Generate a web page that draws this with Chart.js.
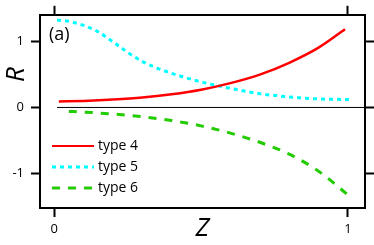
<!DOCTYPE html>
<html>
<head>
<meta charset="utf-8">
<script src="https://cdn.jsdelivr.net/npm/chart.js@4"></script>
<style>
  body { margin: 0; background: #fff; }
  #wrap { width: 374px; height: 245px; position: relative; }
</style>
</head>
<body>
<div id="wrap"><canvas id="myChart"></canvas></div>
<script>
/* values */
const zType4 = [0.016, 0.1, 0.2, 0.3, 0.4, 0.5, 0.6, 0.7, 0.8, 0.9, 0.99];
const rType4 = [0.09, 0.10, 0.12, 0.15, 0.20, 0.27, 0.37, 0.50, 0.68, 0.91, 1.19];

const zType5 = [0.01, 0.05, 0.1, 0.15, 0.2, 0.25, 0.3, 0.35, 0.4, 0.45, 0.5, 0.6, 0.7, 0.8, 0.9, 1.01];
const rType5 = [1.33, 1.31, 1.25, 1.15, 1.0, 0.84, 0.70, 0.60, 0.52, 0.45, 0.39, 0.29, 0.21, 0.16, 0.13, 0.12];

const zType6 = [0.05, 0.1, 0.2, 0.3, 0.4, 0.5, 0.6, 0.7, 0.8, 0.9, 1.0];
const rType6 = [-0.06, -0.07, -0.10, -0.14, -0.20, -0.28, -0.39, -0.53, -0.71, -0.97, -1.33];

const zeroLineZ = [0.01, 1.058];
const xTicks = [0, 1];
const yTicks = [-1, 0, 1];
const seriesNames = ['type 4', 'type 5', 'type 6'];

const toPoints = (xs, ys) => xs.map((x, i) => ({ x: x, y: ys[i] }));

const FONT = '"Open Sans", "DejaVu Sans", sans-serif';

/* legend, panel label and axis titles drawn on top */
const extras = {
  id: 'extras',
  afterDraw(chart) {
    const c = chart.ctx;
    const yS = chart.scales.y;
    const area = chart.chartArea;
    c.save();
    c.fillStyle = '#000';

    c.font = '18px ' + FONT;
    c.textAlign = 'left';
    c.textBaseline = 'middle';
    c.fillText('(a)', 49, 35);

    c.font = 'italic 26px ' + FONT;
    c.save();
    c.translate(17, yS.getPixelForValue(0.5));
    c.rotate(-Math.PI / 2);
    c.textAlign = 'center';
    c.fillText('R', 0, 0);
    c.restore();

    c.textAlign = 'center';
    c.fillText('Z', (area.left + area.right) / 2, 229);

    // legend
    const rows = [
      { y: 146, color: '#ff0000', dash: [], w: 2 },
      { y: 167, color: '#00ffff', dash: [4, 4], w: 3 },
      { y: 188, color: '#22cc00', dash: [8, 8], w: 3 },
    ];
    c.font = '14px ' + FONT;
    c.textAlign = 'left';
    rows.forEach((r, i) => {
      c.beginPath();
      c.setLineDash(r.dash);
      c.strokeStyle = r.color;
      c.lineWidth = r.w;
      c.moveTo(52, r.y);
      c.lineTo(94, r.y);
      c.stroke();
      c.setLineDash([]);
      c.fillText(seriesNames[i], 98, r.y);
    });
    c.restore();
  }
};

const axisBase = {
  type: 'linear',
  grid: { drawOnChartArea: false, drawTicks: true, tickLength: 9, tickWidth: 2, color: '#000' },
  border: { display: true, color: '#000', width: 2 },
};

let ctx = document.querySelector('#myChart').getContext('2d');
let myChart = new Chart(ctx, {
  type: 'line',
  data: {
    datasets: [
      {
        label: 'zero',
        data: toPoints(zeroLineZ, [0, 0]),
        borderColor: '#000',
        borderWidth: 1,
        pointRadius: 0,
        order: 5,
      },
      {
        label: seriesNames[0],
        data: toPoints(zType4, rType4),
        borderColor: '#ff0000',
        borderWidth: 2.5,
        pointRadius: 0,
        cubicInterpolationMode: 'monotone',
      },
      {
        label: seriesNames[1],
        data: toPoints(zType5, rType5),
        borderColor: '#00ffff',
        borderWidth: 3,
        borderDash: [4, 4],
        pointRadius: 0,
        cubicInterpolationMode: 'monotone',
      },
      {
        label: seriesNames[2],
        data: toPoints(zType6, rType6),
        borderColor: '#22cc00',
        borderWidth: 3,
        borderDash: [8, 8],
        pointRadius: 0,
        cubicInterpolationMode: 'monotone',
      },
    ]
  },
  options: {
    responsive: true,
    maintainAspectRatio: false,
    animation: false,
    layout: { padding: 0 },
    plugins: {
      legend: { display: false },
      tooltip: { enabled: false },
    },
    scales: {
      x: {
        ...axisBase,
        position: 'bottom',
        min: -0.048, max: 1.058,
        afterBuildTicks: (s) => { s.ticks = xTicks.map(v => ({ value: v })); },
        afterFit: (s) => { s.height = 37; },
        ticks: { color: '#000', font: { size: 13, family: FONT }, padding: 4, maxRotation: 0 },
      },
      xTop: {
        ...axisBase,
        position: 'top',
        min: -0.048, max: 1.058,
        afterBuildTicks: (s) => { s.ticks = xTicks.map(v => ({ value: v })); },
        afterFit: (s) => { s.height = 10; },
        ticks: { display: false },
      },
      y: {
        ...axisBase,
        position: 'left',
        min: -1.53, max: 1.41,
        afterBuildTicks: (s) => { s.ticks = yTicks.map(v => ({ value: v })); },
        afterFit: (s) => { s.width = 40; },
        ticks: { color: '#000', font: { size: 13, family: FONT }, padding: 7 },
      },
      yRight: {
        ...axisBase,
        position: 'right',
        min: -1.53, max: 1.41,
        afterBuildTicks: (s) => { s.ticks = yTicks.map(v => ({ value: v })); },
        afterFit: (s) => { s.width = 9; },
        ticks: { display: false },
      },
    },
  },
  plugins: [extras],
});
</script>
</body>
</html>
